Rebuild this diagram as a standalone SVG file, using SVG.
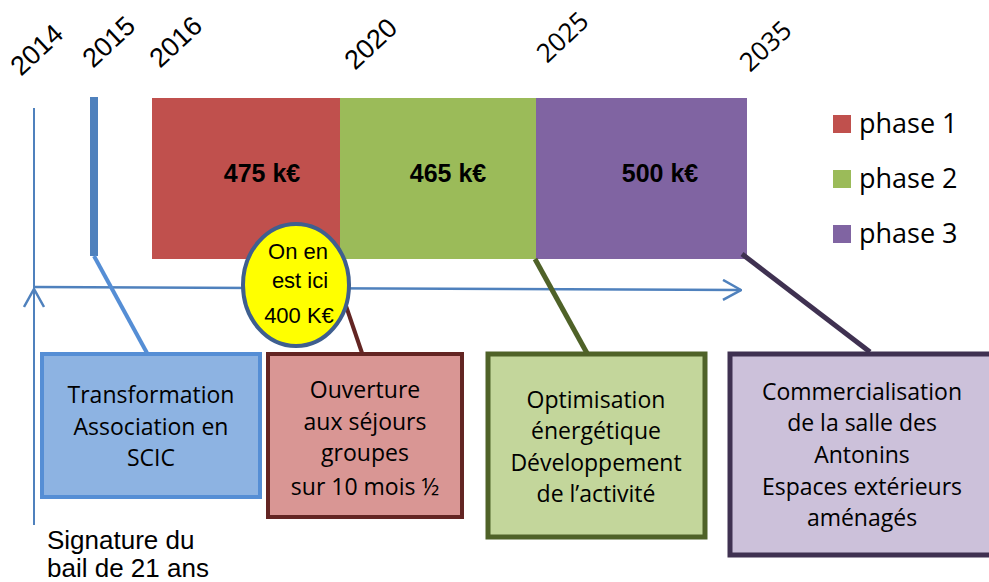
<svg xmlns="http://www.w3.org/2000/svg" width="989" height="582" viewBox="0 0 989 582">
<style>
.yr{font-family:"Liberation Sans",Arial,sans-serif;font-size:27px;fill:#000}
.yr2{font-family:"Open Sans",sans-serif;font-size:26px;fill:#000}
.amt{font-family:"Liberation Sans",Arial,sans-serif;font-size:25px;font-weight:bold;fill:#000;text-anchor:middle}
.box{font-family:"Open Sans",sans-serif;font-size:23px;fill:#000;text-anchor:middle}
.leg{font-family:"Open Sans",sans-serif;font-size:27px;fill:#000}
.ell{font-family:"Liberation Sans",Arial,sans-serif;font-size:22px;fill:#000;text-anchor:middle}
.sig{font-family:"Liberation Sans",Arial,sans-serif;font-size:26px;fill:#000}
</style>
<defs>
<marker id="open2" viewBox="0 0 20 22" refX="19" refY="11" markerWidth="20" markerHeight="22" markerUnits="userSpaceOnUse" orient="auto">
<path d="M1,1 L19,11 L1,21" fill="none" stroke="#4F81BD" stroke-width="2.5"/>
</marker>
</defs>
<rect width="989" height="582" fill="#fff"/>
<g id="years">
<text class="yr" transform="translate(21,77) rotate(-43)">2014</text>
<text class="yr" transform="translate(93,69) rotate(-43)">2015</text>
<text class="yr" transform="translate(160,69) rotate(-43)">2016</text>
<text class="yr" transform="translate(355,71) rotate(-43)">2020</text>
<text class="yr2" transform="translate(547,64) rotate(-43)">2025</text>
<text class="yr2" transform="translate(750,73) rotate(-43)">2035</text>
</g>
<g id="bars">
<rect id="phase1" x="152" y="98" width="188" height="161" fill="#C0504D"/>
<rect id="phase2" x="340" y="98" width="196" height="161" fill="#9BBB59"/>
<rect id="phase3" x="536" y="98" width="211" height="161" fill="#8064A2"/>
<text class="amt" x="262" y="182">475 k€</text>
<text class="amt" x="448" y="182">465 k€</text>
<text class="amt" x="660" y="182">500 k€</text>
</g>
<g id="bar2015"><rect x="90" y="97" width="8" height="159" fill="#4F81BD"/></g>
<g id="legend">
<rect x="833" y="115" width="18" height="18" fill="#C0504D"/>
<rect x="833" y="170" width="18" height="18" fill="#9BBB59"/>
<rect x="833" y="225" width="18" height="18" fill="#8064A2"/>
<text class="leg" x="859" y="133">phase 1</text>
<text class="leg" x="859" y="188">phase 2</text>
<text class="leg" x="859" y="243">phase 3</text>
</g>
<g id="connectors" fill="none">
<line x1="34" y1="108" x2="34" y2="525" stroke="#4F81BD" stroke-width="2"/>
<path d="M34,525 L34,289" stroke="none" marker-end="url(#open2)"/>
<line x1="34" y1="287" x2="741" y2="290" stroke="#4F81BD" stroke-width="2.5" marker-end="url(#open2)"/>
<line x1="94" y1="256" x2="147" y2="353" stroke="#558ED5" stroke-width="4"/>
<line x1="346" y1="306" x2="362" y2="353" stroke="#632523" stroke-width="4"/>
<line x1="535" y1="259" x2="588" y2="355" stroke="#4F6228" stroke-width="5"/>
<line x1="742" y1="254" x2="870" y2="352" stroke="#3F3151" stroke-width="5"/>
</g>
<g id="here">
<ellipse cx="296" cy="285" rx="53" ry="61" fill="#FFFF00" stroke="#3F5F8F" stroke-width="4"/>
<text class="ell" x="298" y="259">On en</text>
<text class="ell" x="300" y="288">est ici</text>
<text class="ell" x="299" y="323">400 K€</text>
</g>
<g id="box1">
<rect x="42" y="354" width="218" height="143" fill="#8DB3E2" stroke="#558ED5" stroke-width="4"/>
<text class="box" x="151" y="403">Transformation</text>
<text class="box" x="151" y="435">Association en</text>
<text class="box" x="151" y="466">SCIC</text>
</g>
<g id="box2">
<rect x="268" y="354" width="194" height="163" fill="#D99694" stroke="#632523" stroke-width="4"/>
<text class="box" x="365" y="398">Ouverture</text>
<text class="box" x="365" y="430">aux séjours</text>
<text class="box" x="365" y="461">groupes</text>
<text class="box" x="365" y="495">sur 10 mois ½</text>
</g>
<g id="box3">
<rect x="488" y="354" width="217" height="183" fill="#C3D69B" stroke="#4F6228" stroke-width="5"/>
<text class="box" x="596" y="408">Optimisation</text>
<text class="box" x="596" y="439">énergétique</text>
<text class="box" x="596" y="471">Développement</text>
<text class="box" x="596" y="502">de l’activité</text>
</g>
<g id="box4">
<rect x="730" y="354" width="268" height="201" fill="#CCC1DA" stroke="#3F3151" stroke-width="5"/>
<text class="box" x="862" y="400">Commercialisation</text>
<text class="box" x="862" y="431">de la salle des</text>
<text class="box" x="862" y="463">Antonins</text>
<text class="box" x="862" y="495">Espaces extérieurs</text>
<text class="box" x="862" y="526">aménagés</text>
</g>
<g id="signature">
<text class="sig" x="47" y="549">Signature du</text>
<text class="sig" x="47" y="577">bail de 21 ans</text>
</g>
</svg>
